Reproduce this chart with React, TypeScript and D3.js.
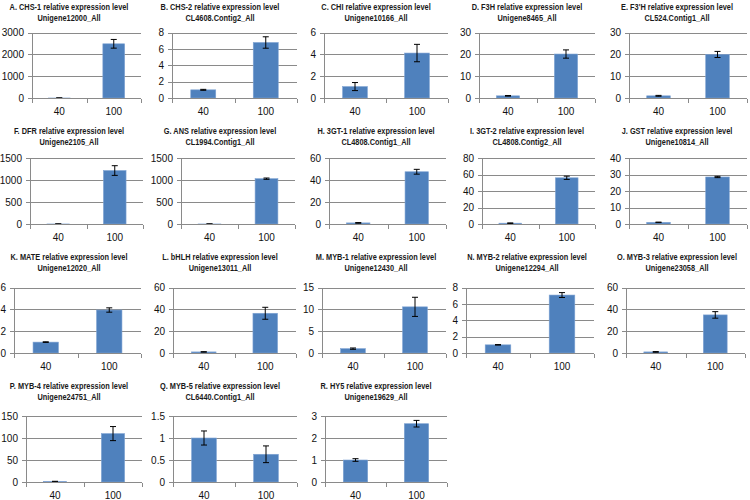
import React from "react";
import * as d3 from "d3";

const categories = ["40", "100"];
const titleGenes = ["A. CHS-1", "B. CHS-2", "C. CHI", "D. F3H", "E. F3'H", "F. DFR", "G. ANS", "H. 3GT-1", "I. 3GT-2", "J. GST", "K. MATE", "L. bHLH", "M. MYB-1", "N. MYB-2", "O. MYB-3", "P. MYB-4", "Q. MYB-5", "R. HY5"];
const unigenes = ["Unigene12000_All", "CL4608.Contig2_All", "Unigene10166_All", "Unigene8465_All", "CL524.Contig1_All", "Unigene2105_All", "CL1994.Contig1_All", "CL4808.Contig1_All", "CL4808.Contig2_All", "Unigene10814_All", "Unigene12020_All", "Unigene13011_All", "Unigene12430_All", "Unigene12294_All", "Unigene23058_All", "Unigene24751_All", "CL6440.Contig1_All", "Unigene19629_All"];
const values40 = [1, 1.0, 1.05, 1, 1, 1, 1, 1, 1, 1, 1, 1, 1, 1, 1, 1, 1.0, 1.0];
const errors40 = [0.5, 0.06, 0.37, 0.15, 0.2, 1, 1, 0.3, 0.3, 0.15, 0.03, 0.2, 0.15, 0.03, 0.3, 0.6, 0.16, 0.06];
const values100 = [2490, 6.8, 4.13, 20.2, 20, 1215, 1030, 47.5, 56, 28.5, 3.95, 36.5, 10.6, 7.1, 35, 110, 0.63, 2.65];
const errors100 = [200, 0.7, 0.8, 1.9, 1.4, 110, 15, 2.2, 2, 0.4, 0.2, 5.5, 2.2, 0.3, 3, 16, 0.19, 0.15];
const yMaxes = [3000, 8, 6, 30, 30, 1500, 1500, 60, 80, 40, 6, 60, 15, 8, 60, 150, 1.5, 3];
const ySteps = [1000, 2, 2, 10, 10, 500, 500, 20, 20, 10, 2, 20, 5, 2, 20, 50, 0.5, 1];

// layout
const plotLefts = [32, 172, 324, 479, 629, 30, 181, 329, 482, 629, 14, 173, 322, 466, 626, 26, 173, 325];
const plotRights = [141, 297, 448, 595, 747, 143, 295, 446, 595, 747, 141, 296, 446, 594, 745, 142, 297, 447];
const rowTops = [32.7, 158, 287.7, 416];
const rowBottoms = [98, 224, 353, 482];
const titleCenters = [69, 220, 376, 527, 677];
const titleBaselines = [10, 134, 260, 389];

const FONT = "'Liberation Sans', Arial, sans-serif";
const GRID = "#8a8a8a";
const BAR = "#4f81bd";

function Title({ cx, y, text }: { cx: number; y: number; text: string }) {
  return (
    <text transform={`translate(${cx},${y}) scale(0.82,1)`} x={0} y={0} textAnchor="middle" fontFamily={FONT} fontWeight="bold" fontSize={9} fill="#1a1a1a">
      {text}
    </text>
  );
}

function Panel({ i }: { i: number }) {
  const col = i % 5;
  const row = Math.floor(i / 5);
  const left = plotLefts[i];
  const right = plotRights[i];
  const top = rowTops[row];
  const bottom = rowBottoms[row];
  const x = d3.scaleBand<string>().domain(categories).range([left, right]).paddingInner(0.6).paddingOuter(0.3);
  const y = d3.scaleLinear().domain([0, yMaxes[i]]).range([bottom, top]);
  const ticks = d3.range(0, yMaxes[i] + ySteps[i] / 2, ySteps[i]);
  const fmt = (v: number) => String(+v.toFixed(2));
  const vals = [values40[i], values100[i]];
  const errs = [errors40[i], errors100[i]];
  const step = x.step();
  const boundaries = d3.range(categories.length + 1).map((k) => left + k * step);
  const crisp = (v: number) => Math.round(v) + 0.5;
  return (
    <g>
      <Title cx={titleCenters[col]} y={titleBaselines[row]} text={titleGenes[i] + " relative expression level"} />
      <Title cx={titleCenters[col]} y={titleBaselines[row] + 10.5} text={unigenes[i]} />
      {ticks.map((t) => (
        <g key={t}>
          {t > 0 && <line x1={left} x2={right} y1={crisp(y(t))} y2={crisp(y(t))} stroke={GRID} strokeWidth={1} shapeRendering="crispEdges" />}
          <line x1={left - 4} x2={left} y1={crisp(y(t))} y2={crisp(y(t))} stroke={GRID} strokeWidth={1} shapeRendering="crispEdges" />
          <text x={left - 8} y={y(t)} dy="0.35em" textAnchor="end" fontFamily={FONT} fontSize={10} fill="#111">
            {fmt(t)}
          </text>
        </g>
      ))}
      <line x1={crisp(left)} x2={crisp(left)} y1={top} y2={crisp(bottom)} stroke={GRID} strokeWidth={1} shapeRendering="crispEdges" />
      {categories.map((c, k) => {
        const bx = x(c) as number;
        const bw = x.bandwidth();
        const cx = bx + bw / 2;
        const v = vals[k];
        const e = errs[k];
        return (
          <g key={c}>
            <rect x={bx} y={y(v)} width={bw} height={y(0) - y(v)} fill={BAR} stroke="#7fa3d3" strokeWidth={0.6} />
            <line x1={cx} x2={cx} y1={y(v + e)} y2={y(Math.max(0, v - e))} stroke="#000" strokeWidth={1} />
            <line x1={cx - 3} x2={cx + 3} y1={y(v + e)} y2={y(v + e)} stroke="#000" strokeWidth={1} />
            <line x1={cx - 3} x2={cx + 3} y1={y(Math.max(0, v - e))} y2={y(Math.max(0, v - e))} stroke="#000" strokeWidth={1} />
            <text x={cx} y={bottom + 17} textAnchor="middle" fontFamily={FONT} fontSize={10} fill="#111">
              {c}
            </text>
          </g>
        );
      })}
      <line x1={left} x2={right} y1={crisp(bottom)} y2={crisp(bottom)} stroke={GRID} strokeWidth={1} shapeRendering="crispEdges" />
      {boundaries.map((bxv, k) => (
        <line key={k} x1={crisp(bxv)} x2={crisp(bxv)} y1={crisp(bottom)} y2={crisp(bottom) + 4} stroke={GRID} strokeWidth={1} shapeRendering="crispEdges" />
      ))}
    </g>
  );
}

export default function App() {
  return (
    <svg width={750} height={500} style={{ position: "absolute", left: 0, top: 0, background: "#fff" }}>
      <rect width={750} height={500} fill="#fff" />
      {titleGenes.map((_, i) => (
        <Panel key={i} i={i} />
      ))}
    </svg>
  );
}
